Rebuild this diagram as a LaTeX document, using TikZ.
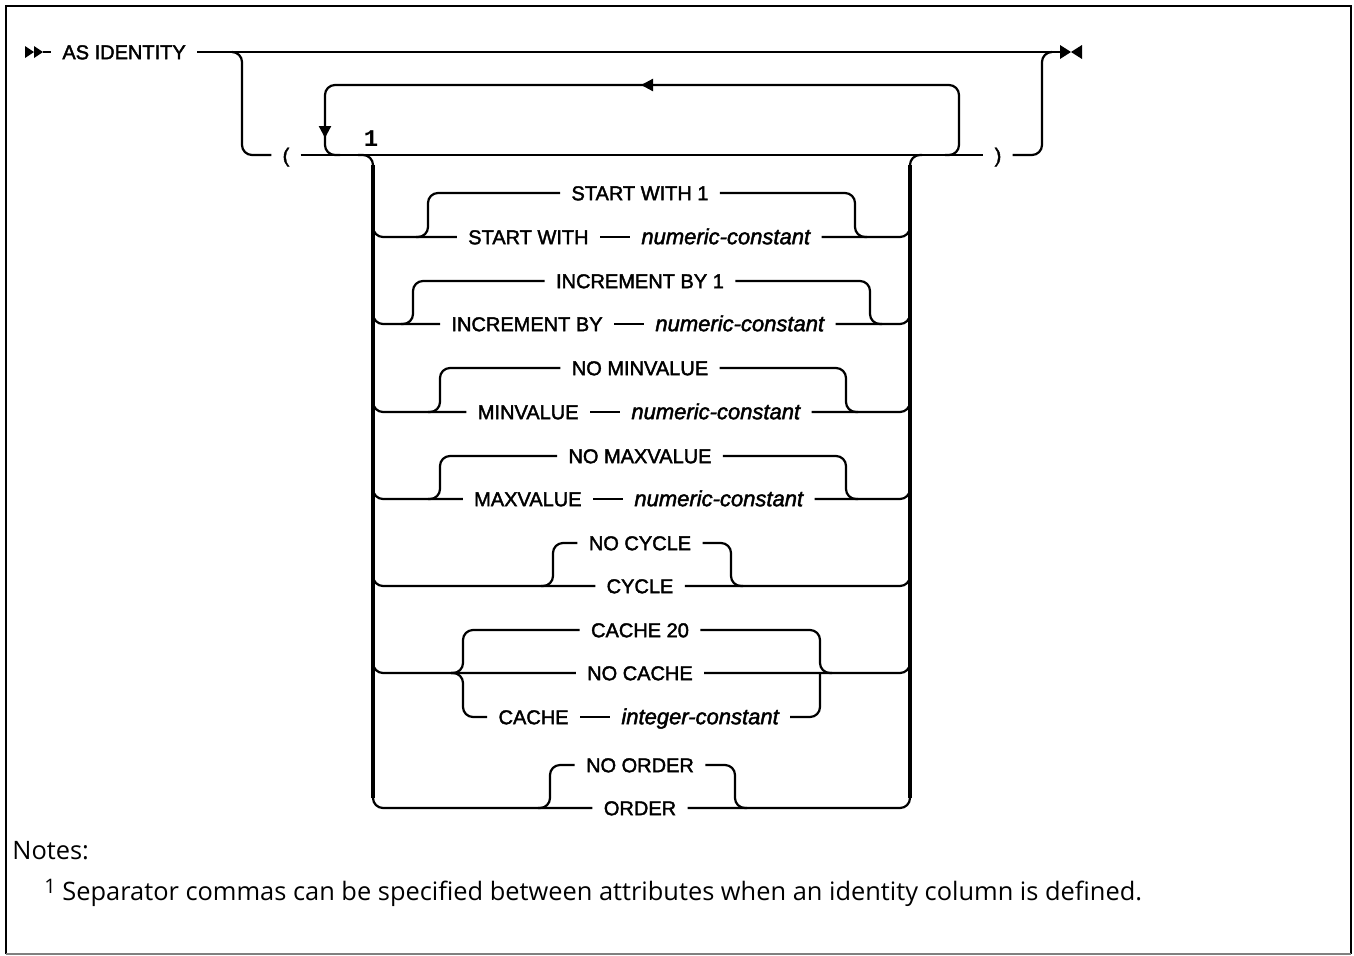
\documentclass[tikz,border=0pt]{standalone}
\usepackage{fontspec}
\setmainfont{Liberation Sans}
\newfontfamily\kwfont{Liberation Sans}[FakeBold=2]
\newfontfamily\notefont{Open Sans}
\newfontfamily\numfont{Liberation Mono}
\usetikzlibrary{arrows.meta, positioning}

\begin{document}
\begin{tikzpicture}[
    x=0.5pt, y=-0.5pt,
    line/.style={line width=1.1pt, rounded corners=5pt},
    rail/.style={line width=1.6pt},
    kw/.style={inner xsep=5.5pt, inner ysep=0pt, text height=7.2pt, text depth=0pt, font=\kwfont\fontsize{10}{12}\selectfont},
    var/.style={kw, font=\kwfont\fontsize{11}{13}\selectfont\itshape},
    tip/.style={-{Triangle[length=6pt, width=6pt]}, line width=1.1pt},
    note/.style={anchor=west, inner sep=0pt, font=\notefont\fontsize{12.7}{15}\selectfont}
]
    \useasboundingbox (0,0) rectangle (1354,955);

    % Frame
    \draw[line width=1.2pt] (6,954) -- (6,6) -- (1351,6) -- (1351,954);
    \draw[gray, line width=1.2pt] (6,954) -- (1351,954);

    % Start and end of the statement
    \fill (25,46) -- (34,52) -- (25,58) -- cycle;
    \fill (34,46) -- (43,52) -- (34,58) -- cycle;
    \coordinate (start) at (43,52);
    \node[kw, anchor=west] (asid) at (51,52) {AS IDENTITY};
    \coordinate (stop) at (1060,52);
    \fill (1060,45) -- (1071,52) -- (1060,59) -- cycle;
    \fill (1082,45) -- (1071,52) -- (1082,59) -- cycle;

    \draw[line] (start) -- (asid.west);
    \draw[line] (asid.east) -- (stop);

    % Optional attribute list in parentheses
    \coordinate (brL) at (232,52);
    \coordinate (brR) at (1052,52);
    \node[kw] (lpar) at (286,155) {(};
    \node[kw] (rpar) at (998,155) {)};
    \draw[line] (brL) -| (242,155) -- (lpar.west);
    \draw[line] (rpar.east) -| (1042,52) -- (brR);
    \draw[line] (lpar.east) -- (rpar.west);

    % Repeat loop
    \coordinate (loopR) at (945,155);
    \coordinate (loopL) at (340,155);
    \draw[line] (loopR) -| (959,85) -| (325,155) -- (loopL);
    \draw[tip] (660,85) -- (641,85);
    \draw[tip] (325,115) -- (325,138);
    \node[font=\numfont\bfseries\fontsize{12}{14}\selectfont] (fn) at (371,139) {1};

    % Rails
    \draw[rail] (373,165) -- (373,798);
    \draw[rail] (910,165) -- (910,798);
    \draw[line] (358,155) -| (373,175);
    \draw[line] (922,155) -| (910,175);

    % START WITH
    \node[kw] (sw1) at (640,193) {START WITH 1};
    \node[kw, anchor=east] (sw2) at (600,237) {START WITH};
    \node[var, right=15pt of sw2] (sw2v) {numeric-constant};
    \draw[line] (373,220) |- (sw2.west);
    \draw[line] (416,237) -| (428,193) -- (sw1.west);
    \draw[line] (sw1.east) -| (855,237) -- (867,237);
    \draw[line] (sw2.east) -- (sw2v.west);
    \draw[line] (sw2v.east) -| (910,220);

    % INCREMENT BY
    \node[kw] (ib1) at (640,281) {INCREMENT BY 1};
    \node[kw, anchor=east] (ib2) at (614,324) {INCREMENT BY};
    \node[var, right=15pt of ib2] (ib2v) {numeric-constant};
    \draw[line] (373,307) |- (ib2.west);
    \draw[line] (401,324) -| (413,281) -- (ib1.west);
    \draw[line] (ib1.east) -| (870,324) -- (882,324);
    \draw[line] (ib2.east) -- (ib2v.west);
    \draw[line] (ib2v.east) -| (910,307);

    % MINVALUE
    \node[kw] (mi1) at (640,368) {NO MINVALUE};
    \node[kw, anchor=east] (mi2) at (590,412) {MINVALUE};
    \node[var, right=15pt of mi2] (mi2v) {numeric-constant};
    \draw[line] (373,395) |- (mi2.west);
    \draw[line] (428,412) -| (440,368) -- (mi1.west);
    \draw[line] (mi1.east) -| (846,412) -- (858,412);
    \draw[line] (mi2.east) -- (mi2v.west);
    \draw[line] (mi2v.east) -| (910,395);

    % MAXVALUE
    \node[kw] (ma1) at (640,456) {NO MAXVALUE};
    \node[kw, anchor=east] (ma2) at (593,499) {MAXVALUE};
    \node[var, right=15pt of ma2] (ma2v) {numeric-constant};
    \draw[line] (373,482) |- (ma2.west);
    \draw[line] (428,499) -| (440,456) -- (ma1.west);
    \draw[line] (ma1.east) -| (846,499) -- (858,499);
    \draw[line] (ma2.east) -- (ma2v.west);
    \draw[line] (ma2v.east) -| (910,482);

    % CYCLE
    \node[kw] (cy1) at (640,543) {NO CYCLE};
    \node[kw] (cy2) at (640,586) {CYCLE};
    \draw[line] (373,570) |- (cy2.west);
    \draw[line] (541,586) -| (553,543) -- (cy1.west);
    \draw[line] (cy1.east) -| (731,586) -- (743,586);
    \draw[line] (cy2.east) -| (910,570);

    % CACHE
    \node[kw] (ca1) at (640,630) {CACHE 20};
    \node[kw] (ca2) at (640,673) {NO CACHE};
    \node[kw, anchor=east] (ca3) at (580,717) {CACHE};
    \node[var, right=15pt of ca3] (ca3v) {integer-constant};
    \draw[line] (373,657) |- (ca2.west);
    \draw[line] (451,673) -| (463,630) -- (ca1.west);
    \draw[line] (451,673) -| (463,717) -- (ca3.west);
    \draw[line] (ca1.east) -| (820,673) -- (832,673);
    \draw[line] (ca3.east) -- (ca3v.west);
    \draw[line] (ca3v.east) -| (820,673);
    \draw[line] (ca2.east) -| (910,657);

    % ORDER
    \node[kw] (or1) at (640,765) {NO ORDER};
    \node[kw] (or2) at (640,808) {ORDER};
    \draw[line] (373,790) |- (or2.west);
    \draw[line] (538,808) -| (550,765) -- (or1.west);
    \draw[line] (or1.east) -| (735,808) -- (747,808);
    \draw[line] (or2.east) -| (910,790);

    % Notes
    \node[note] (notes) at (12,851) {Notes:};
    \node[note] (fnote) at (44,893) {\raisebox{3.5pt}{\fontsize{10}{10}\selectfont 1} Separator commas can be specified between attributes when an identity column is defined.};
\end{tikzpicture}
\end{document}
